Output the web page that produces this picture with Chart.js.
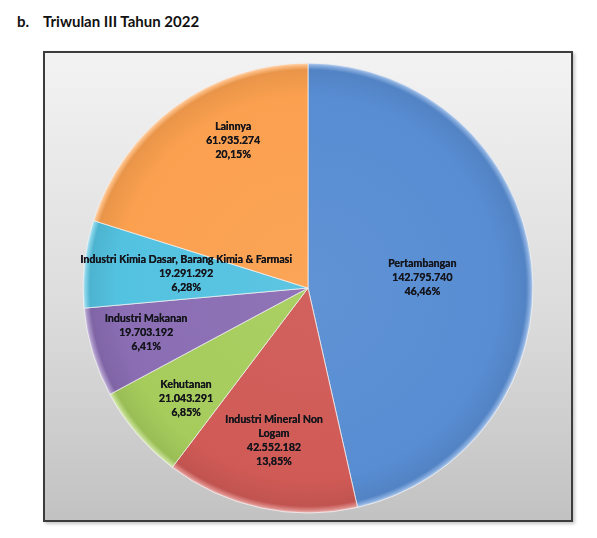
<!DOCTYPE html>
<html>
<head>
<meta charset="utf-8">
<script src="https://cdn.jsdelivr.net/npm/chart.js@4"></script>
<style>
  html, body { margin: 0; padding: 0; background: #ffffff; }
  body { width: 597px; height: 538px; position: relative; overflow: hidden; }
  .title { position: absolute; top: 12px; font: bold 15px Lato, "Liberation Sans", sans-serif; color: #111; white-space: nowrap; }
  #frame {
    position: absolute; left: 43px; top: 51px; width: 530px; height: 471px;
    box-sizing: border-box; border: 2px solid #3c3c3c;
    background: linear-gradient(to bottom, #f3f3f3 0%, #dcdcdc 55%, #c2c2c2 100%);
    box-shadow: 2px 2px 3px rgba(0,0,0,0.22);
  }
  #frame canvas { display: block; }
</style>
</head>
<body>
<div class="title" style="left:17px">b.</div>
<div class="title" style="left:43px">Triwulan III Tahun 2022</div>
<div id="frame"><canvas id="pie" width="526" height="467"></canvas></div>
<script>
// Sectors and their values for Q3 2022
const categories = [
  'Pertambangan',
  ['Industri Mineral Non', 'Logam'],
  'Kehutanan',
  'Industri Makanan',
  'Industri Kimia Dasar, Barang Kimia & Farmasi',
  'Lainnya'
];
const values = [142795740, 42552182, 21043291, 19703192, 19291292, 61935274];
const sliceColors = ['#588dd3', '#d05a56', '#a6cc5c', '#8a6db3', '#53c2e0', '#fba04f'];

// Label placement inside each slice: fraction of radius, angular nudge in degrees
const labelRadius = [0.51, 0.695, 0.733, 0.747, 0.546, 0.737];
const labelNudge  = [1, 0.4, -1.7, 1.2, 0.8, 9.4];

const total = values.reduce((a, b) => a + b, 0);
const fmtNumber = v => String(v).replace(/\B(?=(\d{3})+(?!\d))/g, '.');
const fmtPercent = v => (v / total * 100).toFixed(2).replace('.', ',') + '%';

function shade(hex, amt) {
  const n = parseInt(hex.slice(1), 16);
  let r = (n >> 16) & 255, g = (n >> 8) & 255, b = n & 255;
  const f = c => Math.max(0, Math.min(255, Math.round(amt >= 0 ? c + (255 - c) * amt : c * (1 + amt))));
  return `rgb(${f(r)},${f(g)},${f(b)})`;
}

// Soft bevel: slightly lighter centre, darker band near the rim, pale outer edge
function sliceFill(ctx) {
  const base = sliceColors[ctx.dataIndex];
  const chart = ctx.chart;
  const area = chart.chartArea;
  if (!area) return base;
  const cx = (area.left + area.right) / 2, cy = (area.top + area.bottom) / 2;
  const R = 225;
  const g = chart.ctx.createRadialGradient(cx, cy, 0, cx, cy, R);
  g.addColorStop(0, shade(base, 0.05));
  g.addColorStop(0.85, base);
  g.addColorStop(0.97, shade(base, -0.07));
  g.addColorStop(0.99, shade(base, 0.3));
  g.addColorStop(1, shade(base, 0.65));
  return g;
}

const sliceLabels = {
  id: 'sliceLabels',
  afterDatasetsDraw(chart) {
    const ctx = chart.ctx;
    const meta = chart.getDatasetMeta(0);
    ctx.save();
    ctx.font = 'bold 10.6px Lato, "Liberation Sans", sans-serif';
    ctx.fillStyle = '#15151c';
    ctx.textAlign = 'center';
    ctx.textBaseline = 'middle';
    const lineH = 14;
    meta.data.forEach((arc, i) => {
      const p = arc.getProps(['x', 'y', 'startAngle', 'endAngle', 'outerRadius'], true);
      const mid = (p.startAngle + p.endAngle) / 2 + labelNudge[i] * Math.PI / 180;
      const r = p.outerRadius * labelRadius[i];
      const lx = p.x + Math.cos(mid) * r;
      const ly = p.y + Math.sin(mid) * r;
      const name = chart.data.labels[i];
      const lines = (Array.isArray(name) ? name : [name]).concat([
        fmtNumber(chart.data.datasets[0].data[i]),
        fmtPercent(chart.data.datasets[0].data[i])
      ]);
      const top = ly - (lines.length - 1) * lineH / 2;
      lines.forEach((t, k) => {
        // a faint second pass gives the heavier stroke of the labels
        ctx.fillText(t, lx, top + k * lineH);
        ctx.fillText(t, lx + 0.25, top + k * lineH);
      });
    });
    ctx.restore();
  }
};

new Chart(document.getElementById('pie'), {
  type: 'pie',
  data: {
    labels: categories,
    datasets: [{
      data: values,
      backgroundColor: sliceFill,
      borderColor: 'rgba(240,240,240,0.75)',
      borderWidth: 1
    }]
  },
  options: {
    responsive: false,
    animation: false,
    radius: 225,
    layout: { padding: { top: 3, bottom: 0, left: 0, right: 0 } },
    plugins: { legend: { display: false }, tooltip: { enabled: false } }
  },
  plugins: [sliceLabels]
});
</script>
</body>
</html>
